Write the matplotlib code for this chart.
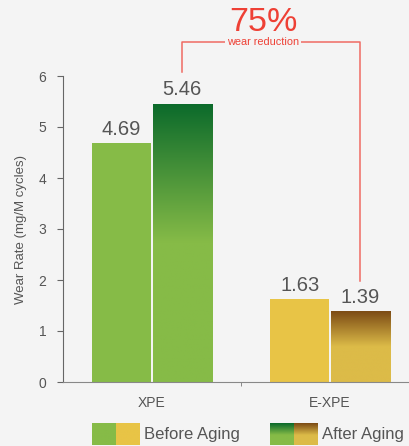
import matplotlib.pyplot as plt
import numpy as np
from matplotlib.colors import LinearSegmentedColormap

plt.rcParams['font.family'] = ['Liberation Sans', 'DejaVu Sans']

# data
categories = ['XPE', 'E-XPE']
before_aging = [4.69, 1.63]
after_aging = [5.46, 1.39]
reduction_pct = 75

BG = '#f4f4f4'
GRAY = '#555555'
RED = '#ee4035'
before_colors = ['#86bb47', '#e8c446']
after_top = ['#0b6a2b', '#7c4b15']
after_base = ['#86bb47', '#dcbb48']


def gradient_cmap(top, base):
    # dark at top, fades to base colour by about the middle
    return LinearSegmentedColormap.from_list('g', [(0, base), (0.5, base), (1, top)])


def gradient_fill(ax, bar, cmap):
    x0, y0 = bar.get_x(), bar.get_y()
    w, h = bar.get_width(), bar.get_height()
    grad = np.linspace(0, 1, 256).reshape(-1, 1)
    im = ax.imshow(grad, cmap=cmap, aspect='auto', origin='lower',
                   extent=[x0, x0 + w, y0, y0 + h], zorder=bar.get_zorder())
    im.set_clip_path(bar)
    bar.set_facecolor('none')


fig = plt.figure(figsize=(4.10, 4.46), dpi=100, facecolor=BG)
ax = fig.add_axes([63 / 410, 64 / 446, 356 / 410, 306 / 446], facecolor=BG)

x = np.arange(len(categories))
width = 0.335
gap = 0.003
bars_b = ax.bar(x - width / 2 - gap, before_aging, width, color=before_colors, linewidth=0)
bars_a = ax.bar(x + width / 2 + gap, after_aging, width, color=after_base, linewidth=0)
for bar, top, base in zip(bars_a, after_top, after_base):
    gradient_fill(ax, bar, gradient_cmap(top, base))

for bars, vals in [(bars_b, before_aging), (bars_a, after_aging)]:
    for bar, v in zip(bars, vals):
        ax.annotate(f'{v:.2f}', (bar.get_x() + bar.get_width() / 2, v),
                    xytext=(0, 3), textcoords='offset points',
                    ha='center', va='bottom', fontsize=14.5, color=GRAY)

ax.set_xlim(-0.5, 1.5)
ax.set_ylim(0, 6)
ax.set_xticks(x)
ax.set_xticklabels(categories, fontsize=10, color=GRAY)
ax.tick_params(axis='x', which='major', length=0, pad=10)
ax.set_xticks([0.5], minor=True)
ax.tick_params(axis='x', which='minor', length=3, color='#777777')
ax.set_yticks(range(0, 7))
ax.tick_params(axis='y', length=4, color='#666666', labelsize=10, labelcolor=GRAY, pad=8)
ax.set_ylabel('Wear Rate (mg/M cycles)', fontsize=9.5, color=GRAY, labelpad=8)

for s in ['top', 'right']:
    ax.spines[s].set_visible(False)
ax.spines['left'].set_color('#666666')
ax.spines['bottom'].set_color('#888888')

# bracket between the aged bars
xl = bars_a[0].get_x() + bars_a[0].get_width() / 2
xr = bars_a[1].get_x() + bars_a[1].get_width() / 2
ytop = 6.67
ax.plot([xl, xl, xr, xr], [6.08, ytop, ytop, 1.98], color='#f06a63', lw=1.1, clip_on=False)
xm = (xl + xr) / 2 - 0.045
ax.text(xm, ytop, 'wear reduction', ha='center', va='center', fontsize=7.8, color=RED,
        bbox=dict(facecolor=BG, edgecolor='none', pad=1.5), clip_on=False)
ax.text(xm, ytop + 0.08, f'{reduction_pct}%', ha='center', va='bottom', fontsize=24.5,
        color=RED, clip_on=False)

# legend swatches
def swatch(px, cmaps):
    for i, cm in enumerate(cmaps):
        sax = fig.add_axes([(px + i * 24) / 410, 1 / 446, 24 / 410, 22 / 446])
        sax.imshow(np.linspace(0, 1, 64).reshape(-1, 1), cmap=cm, aspect='auto', origin='lower')
        sax.axis('off')

swatch(92, [LinearSegmentedColormap.from_list('c', [c, c]) for c in before_colors])
swatch(270, [LinearSegmentedColormap.from_list('c', [(0, b), (0.45, b), (1, t)])
             for t, b in zip(after_top, after_base)])
fig.text(144 / 410, 12 / 446, 'Before Aging', fontsize=12, color=GRAY, va='center')
fig.text(322 / 410, 12 / 446, 'After Aging', fontsize=12, color=GRAY, va='center')

fig.savefig('out.png', dpi=100, facecolor=BG)
